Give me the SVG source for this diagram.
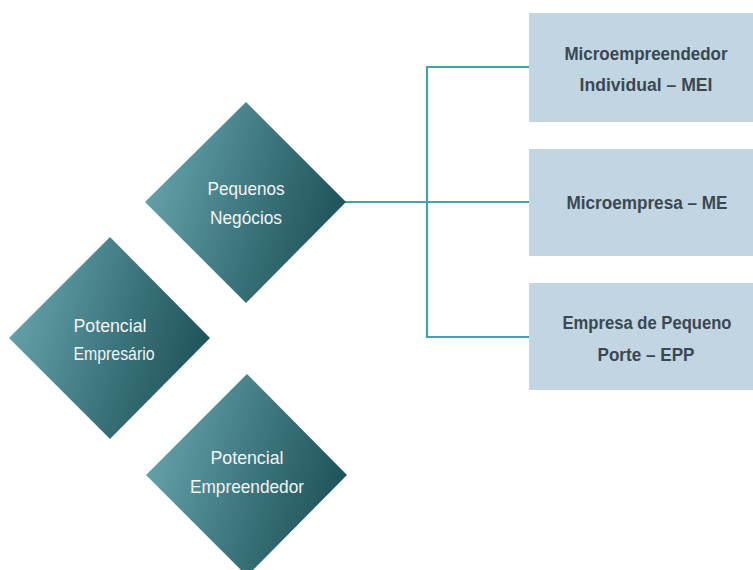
<svg xmlns="http://www.w3.org/2000/svg" width="753" height="570" viewBox="0 0 753 570">
<defs>
<linearGradient id="dg" x1="0" y1="0.35" x2="1" y2="0.65">
<stop offset="0" stop-color="#68a3ab"/>
<stop offset="0.5" stop-color="#3f7880"/>
<stop offset="1" stop-color="#1c5058"/>
</linearGradient>
<style>
.dia{fill:url(#dg)}
.dt{font-family:"Liberation Sans",Arial,sans-serif;font-size:19px;fill:#f4f4f4;text-anchor:middle}
.box{fill:#c1d5e2}
.bt{font-family:"Liberation Sans",Arial,sans-serif;font-size:18px;font-weight:bold;fill:#3b4852;text-anchor:middle}
.conn{fill:none;stroke:#45a2ad;stroke-width:2.2}
</style>
</defs>
<rect width="753" height="570" fill="#ffffff"/>
<g id="connectors">
<path class="conn" d="M345 202 H529"/>
<path class="conn" d="M529 67 H427 V337 H529"/>
</g>
<g id="pequenos-negocios">
<polygon class="dia" points="246,102 346,202 246,303 145,202"/>
<text class="dt" x="246" y="195" textLength="77" lengthAdjust="spacingAndGlyphs">Pequenos</text>
<text class="dt" x="246" y="224" textLength="72" lengthAdjust="spacingAndGlyphs">Negócios</text>
</g>
<g id="potencial-empresario">
<polygon class="dia" points="110,237 210,338 110,439 9,338"/>
<text class="dt" x="110" y="332" textLength="73" lengthAdjust="spacingAndGlyphs">Potencial</text>
<text class="dt" x="114" y="360" textLength="81" lengthAdjust="spacingAndGlyphs">Empresário</text>
</g>
<g id="potencial-empreendedor">
<polygon class="dia" points="247,374 347,475 247,576 146,475"/>
<text class="dt" x="247" y="464" textLength="73" lengthAdjust="spacingAndGlyphs">Potencial</text>
<text class="dt" x="247" y="493" textLength="114" lengthAdjust="spacingAndGlyphs">Empreendedor</text>
</g>
<g id="mei">
<rect class="box" x="529" y="13" width="224" height="109"/>
<text class="bt" x="646" y="60" textLength="163" lengthAdjust="spacingAndGlyphs">Microempreendedor</text>
<text class="bt" x="646" y="91" textLength="133" lengthAdjust="spacingAndGlyphs">Individual – MEI</text>
</g>
<g id="me">
<rect class="box" x="529" y="149" width="224" height="107"/>
<text class="bt" x="647" y="209" textLength="161" lengthAdjust="spacingAndGlyphs">Microempresa – ME</text>
</g>
<g id="epp">
<rect class="box" x="529" y="283" width="224" height="107"/>
<text class="bt" x="647" y="329" textLength="169" lengthAdjust="spacingAndGlyphs">Empresa de Pequeno</text>
<text class="bt" x="646" y="361" textLength="97" lengthAdjust="spacingAndGlyphs">Porte – EPP</text>
</g>
</svg>
